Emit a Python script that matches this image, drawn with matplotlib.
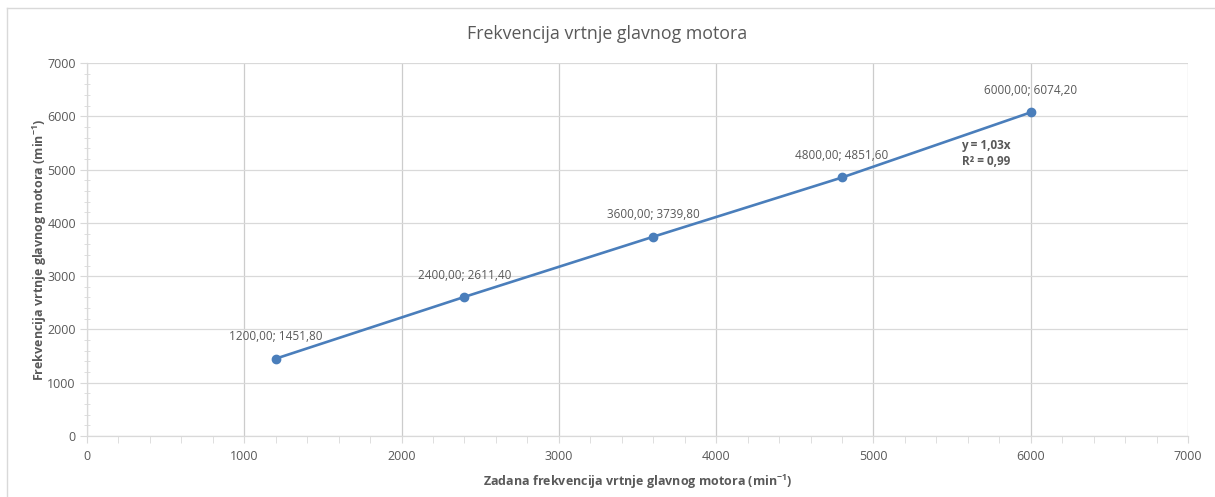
import matplotlib.pyplot as plt
from matplotlib.lines import Line2D
from matplotlib.ticker import MultipleLocator

plt.rcParams['font.family'] = ['Open Sans', 'DejaVu Sans']

zadana = [1200.00, 2400.00, 3600.00, 4800.00, 6000.00]
izmjerena = [1451.80, 2611.40, 3739.80, 4851.60, 6074.20]
trend_text = "y = 1,03x\nR² = 0,99"

grey = '#595959'
grid_grey = '#d9d9d9'
blue = '#4A7EBB'

fig = plt.figure(figsize=(12.15, 4.97), dpi=100)
ax = fig.add_axes([0.0716, 0.1227, 0.9062, 0.7505])

ax.plot(zadana, izmjerena, color=blue, lw=1.9, marker='o', ms=6,
        markerfacecolor=blue, markeredgecolor=blue, zorder=3)

for x, y in zip(zadana, izmjerena):
    lbl = f"{x:.2f}; {y:.2f}".replace('.', ',')
    ax.annotate(lbl, (x, y), xytext=(0, 11), textcoords='offset points',
                ha='center', va='bottom', fontsize=8.5, color=grey)

ax.text(5560, 5310, trend_text, fontsize=8.5, fontweight='bold', color=grey,
        ha='left', va='center', linespacing=1.3)

ax.set_xlim(0, 7000)
ax.set_ylim(0, 7000)
ax.xaxis.set_major_locator(MultipleLocator(1000))
ax.yaxis.set_major_locator(MultipleLocator(1000))
ax.xaxis.set_minor_locator(MultipleLocator(200))
ax.yaxis.set_minor_locator(MultipleLocator(200))
ax.grid(True, axis='y', which='major', color=grid_grey, lw=0.9)
ax.grid(True, axis='x', which='major', color='#cccccc', lw=0.9)
ax.set_axisbelow(True)

for side in ['top', 'right']:
    ax.spines[side].set_visible(False)
for side in ['left', 'bottom']:
    ax.spines[side].set_color(grid_grey)
    ax.spines[side].set_linewidth(0.9)

ax.tick_params(which='both', colors=grid_grey, labelcolor=grey, labelsize=9)
ax.tick_params(axis='x', which='both', direction='out', length=5, pad=5)
ax.tick_params(axis='y', which='major', direction='out', length=5, pad=3)
ax.tick_params(axis='y', which='minor', direction='inout', length=5)

ax.set_xlabel('Zadana frekvencija vrtnje glavnog motora (min$^{\\mathregular{-1}}$)',
              fontsize=9, fontweight='bold', color=grey, labelpad=7)
ax.set_ylabel('Frekvencija vrtnje glavnog motora (min$^{\\mathregular{-1}}$)',
              fontsize=9, fontweight='bold', color=grey, labelpad=-1)

fig.text(0.5, 0.932, 'Frekvencija vrtnje glavnog motora', ha='center', va='center',
         fontsize=12.8, color=grey)

# chart frame (left and top edges only)
fig.add_artist(Line2D([7 / 1215, 7 / 1215], [0, 1 - 8 / 497], transform=fig.transFigure,
                      color=grid_grey, lw=1))
fig.add_artist(Line2D([7 / 1215, 1], [1 - 8 / 497, 1 - 8 / 497], transform=fig.transFigure,
                      color=grid_grey, lw=1))

fig.savefig('out.png', dpi=100)
